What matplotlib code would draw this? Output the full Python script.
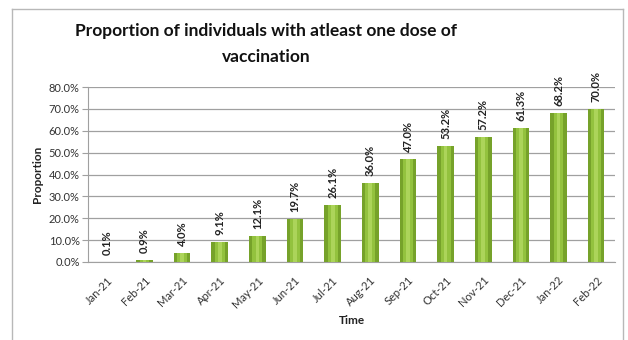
import matplotlib
matplotlib.use("Agg")
import matplotlib.pyplot as plt
from matplotlib.lines import Line2D
import numpy as np

months = ["Jan-21", "Feb-21", "Mar-21", "Apr-21", "May-21", "Jun-21", "Jul-21",
          "Aug-21", "Sep-21", "Oct-21", "Nov-21", "Dec-21", "Jan-22", "Feb-22"]
proportion = [0.1, 0.9, 4.0, 9.1, 12.1, 19.7, 26.1, 36.0, 47.0, 53.2, 57.2, 61.3, 68.2, 70.0]
yticks = [0, 10, 20, 30, 40, 50, 60, 70, 80]

plt.rcParams['font.family'] = ['Lato', 'DejaVu Sans']

fig = plt.figure(figsize=(6.28, 3.40), dpi=100)
# chart frame (bottom edge falls outside the picture)
bx0, bx1, by1 = 12/628, 623/628, 1 - 9/340
for xs, ys in [([bx0, bx0], [0, by1]), ([bx1, bx1], [0, by1]), ([bx0, bx1], [by1, by1])]:
    fig.add_artist(Line2D(xs, ys, transform=fig.transFigure, color="#b8b8b8", linewidth=1.0))

ax = fig.add_axes([88/628, 78/340, (615-88)/628, (262-87)/340])
x = np.arange(len(months))

# cylinder look: dark outer bar, lighter core
ax.bar(x, proportion, width=0.44, color="#76a22a", zorder=3)
ax.bar(x, proportion, width=0.26, color="#93c23e", zorder=4)
ax.bar(x, proportion, width=0.10, color="#acd45a", zorder=5)

for xi, v in zip(x, proportion):
    ax.annotate(f"{v:.1f}%", (xi, v), xytext=(0, 5), textcoords="offset points",
                rotation=90, ha="center", va="bottom", fontsize=8,
                fontweight="bold", color="#222222", annotation_clip=False)

ax.set_xlim(-0.5, len(months) - 0.5)
ax.set_ylim(0, 80)
ax.set_yticks(yticks)
ax.set_yticklabels([f"{t:.1f}%" for t in yticks], fontsize=8, color="#333333")
ax.set_xticks(x)
ax.set_xticklabels(months, rotation=45, ha="right", rotation_mode="anchor",
                   fontsize=8, color="#333333")
ax.tick_params(axis="x", length=0, pad=9)
ax.tick_params(axis="y", length=4, color="#a0a0a0", pad=2)
ax.grid(axis="y", color="#a0a0a0", linewidth=0.9, zorder=0)
for s in ["top", "right"]:
    ax.spines[s].set_visible(False)
ax.spines["left"].set_color("#a0a0a0")
ax.spines["bottom"].set_color("#a0a0a0")

ax.set_ylabel("Proportion", fontsize=8.5, fontweight="bold", color="#222222", labelpad=4)
ax.set_xlabel("Time", fontsize=8.5, fontweight="bold", color="#222222", labelpad=4)

fig.text(266/628, 1 - 44/340, "Proportion of individuals with atleast one dose of\nvaccination",
         ha="center", va="center", fontsize=12.5, fontweight="bold", color="#111111",
         linespacing=1.75)

fig.savefig("out.png", dpi=100, facecolor="white")
